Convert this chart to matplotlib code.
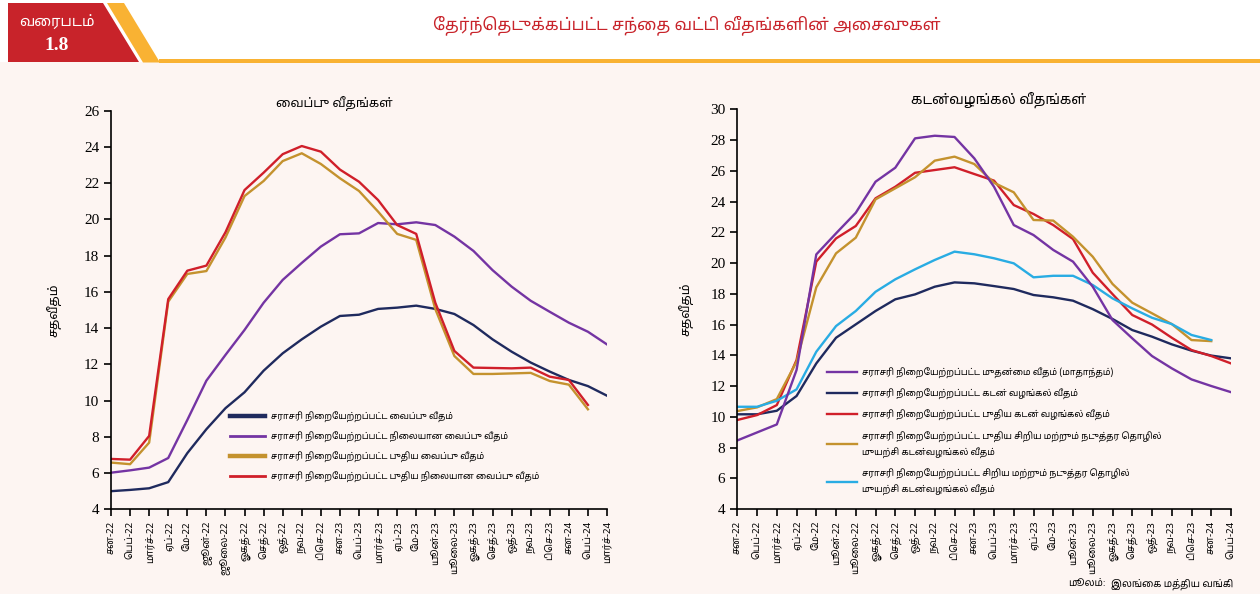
import numpy as np
import matplotlib
matplotlib.use('Agg')
import matplotlib.pyplot as plt
from matplotlib import font_manager
from matplotlib.patches import Polygon, Rectangle

# pick a font that has Tamil glyphs
names = {f.name for f in font_manager.fontManager.ttflist}
TAMIL = 'Noto Sans Tamil' if 'Noto Sans Tamil' in names else 'DejaVu Sans'
plt.rcParams['font.family'] = [TAMIL, 'DejaVu Sans']

# matplotlib does no complex shaping, so put the pre-base vowel signs
# in front of their consonant, the way they are seen on paper
PREBASE = {'\u0bc6', '\u0bc7', '\u0bc8'}
SPLIT = {'\u0bca': ('\u0bc6', '\u0bbe'), '\u0bcb': ('\u0bc7', '\u0bbe'),
         '\u0bcc': ('\u0bc6', '\u0bd7')}


def ta(s):
    out = []
    for ch in s:
        if ch in PREBASE and out:
            out.insert(len(out) - 1, ch)
        elif ch in SPLIT and out:
            a, b = SPLIT[ch]
            out.insert(len(out) - 1, a)
            out.append(b)
        else:
            out.append(ch)
    return ''.join(out)


# ---- data ----
months_dep = ['சன-22', 'பெப்-22', 'மார்ச்-22', 'ஏப்-22', 'மே-22', 'ஜூன்-22', 'ஜூலை-22',
              'ஓகத்-22', 'செத்-22', 'ஒத்-22', 'நவ-22', 'டிசெ-22', 'சன-23', 'பெப்-23',
              'மார்ச்-23', 'ஏப்-23', 'மே-23', 'யூன்-23', 'யூலை-23', 'ஓகத்-23', 'செத்-23',
              'ஒத்-23', 'நவ-23', 'டிசெ-23', 'சன-24', 'பெப்-24', 'மார்ச்-24']
months_lend = ['சன-22', 'பெப்-22', 'மார்ச்-22', 'ஏப்-22', 'மே-22', 'யூன்-22', 'யூலை-22',
               'ஓகத்-22', 'செத்-22', 'ஒத்-22', 'நவ-22', 'டிசெ-22', 'சன-23', 'பெப்-23',
               'மார்ச்-23', 'ஏப்-23', 'மே-23', 'யூன்-23', 'யூலை-23', 'ஓகத்-23', 'செத்-23',
               'ஒத்-23', 'நவ-23', 'டிசெ-23', 'சன-24', 'பெப்-24']

# deposit rates
awdr = [5.0, 5.07, 5.16, 5.5, 7.1, 8.42, 9.58, 10.46, 11.65, 12.61, 13.38, 14.08, 14.67,
        14.74, 15.06, 15.13, 15.24, 15.06, 14.78, 14.17, 13.38, 12.7, 12.1, 11.6, 11.14, 10.8, 10.27]
awfdr = [6.02, 6.15, 6.3, 6.83, 8.93, 11.1, 12.52, 13.9, 15.4, 16.66, 17.6, 18.5, 19.18,
         19.23, 19.8, 19.73, 19.84, 19.69, 19.05, 18.26, 17.2, 16.29, 15.51, 14.9, 14.3, 13.8, 13.1]
awndr = [6.58, 6.49, 7.68, 15.46, 16.99, 17.15, 19.0, 21.29, 22.12, 23.22, 23.65, 23.06, 22.27,
         21.57, 20.43, 19.2, 18.87, 15.05, 12.46, 11.47, 11.47, 11.5, 11.53, 11.08, 10.88, 9.52, np.nan]
awnfdr = [6.78, 6.74, 8.05, 15.6, 17.17, 17.45, 19.29, 21.62, 22.58, 23.6, 24.05, 23.74, 22.75,
          22.08, 21.07, 19.69, 19.2, 15.4, 12.74, 11.82, 11.8, 11.78, 11.82, 11.32, 11.14, 9.76, np.nan]

# lending rates
awpr = [8.46, 8.98, 9.5, 13.04, 20.56, 21.93, 23.27, 25.29, 26.2, 28.11, 28.28, 28.2, 26.81,
        24.96, 22.47, 21.82, 20.85, 20.09, 18.46, 16.29, 15.1, 13.95, 13.15, 12.43, 12.0, 11.6]
awlr = [10.16, 10.16, 10.39, 11.35, 13.47, 15.14, 16.01, 16.88, 17.64, 17.96, 18.46, 18.74, 18.68,
        18.5, 18.31, 17.92, 17.77, 17.55, 17.0, 16.36, 15.64, 15.21, 14.71, 14.3, 13.98, 13.8]
awnlr = [9.79, 10.11, 10.76, 13.69, 20.09, 21.6, 22.41, 24.21, 24.96, 25.87, 26.05, 26.23, 25.79,
         25.36, 23.77, 23.19, 22.47, 21.56, 19.37, 17.98, 16.62, 16.0, 15.14, 14.34, 13.95, 13.47]
awn_sme = [10.37, 10.61, 11.15, 13.58, 18.42, 20.63, 21.65, 24.14, 24.86, 25.58, 26.66, 26.92, 26.44,
           25.22, 24.6, 22.8, 22.76, 21.71, 20.41, 18.64, 17.42, 16.73, 16.03, 14.99, 14.92, np.nan]
aw_sme = [10.65, 10.65, 11.04, 11.78, 14.23, 15.9, 16.88, 18.13, 18.94, 19.59, 20.2, 20.74, 20.57,
          20.31, 19.98, 19.07, 19.17, 19.17, 18.57, 17.7, 17.05, 16.44, 16.03, 15.32, 14.99, np.nan]

dep_labels = ['சராசரி நிறையேற்றப்பட்ட வைப்பு வீதம்',
              'சராசரி நிறையேற்றப்பட்ட நிலையான வைப்பு வீதம்',
              'சராசரி நிறையேற்றப்பட்ட புதிய வைப்பு வீதம்',
              'சராசரி நிறையேற்றப்பட்ட புதிய நிலையான வைப்பு வீதம்']
lend_labels = ['சராசரி நிறையேற்றப்பட்ட முதன்மை வீதம் (மாதாந்தம்)',
               'சராசரி நிறையேற்றப்பட்ட கடன் வழங்கல் வீதம்',
               'சராசரி நிறையேற்றப்பட்ட புதிய கடன் வழங்கல் வீதம்',
               'சராசரி நிறையேற்றப்பட்ட புதிய சிறிய மற்றும் நடுத்தர தொழில்\nமுயற்சி கடன்வழங்கல் வீதம்',
               'சராசரி நிறையேற்றப்பட்ட சிறிய மற்றும் நடுத்தர தொழில்\nமுயற்சி கடன்வழங்கல் வீதம்']

NAVY = '#1f2a5e'
PURPLE = '#7434a3'
GOLD = '#c4922e'
RED = '#d01f2a'
CYAN = '#29ace3'
BG = '#fdf5f2'

fig = plt.figure(figsize=(12.6, 5.94), dpi=100, facecolor=BG)

# header band
fig.patches.append(Rectangle((0, 1 - 62 / 594), 1, 62 / 594, transform=fig.transFigure,
                             facecolor='white', edgecolor='none', zorder=0))
fig.patches.append(Rectangle((159 / 1260, 1 - 62.5 / 594), 1, 4 / 594, transform=fig.transFigure,
                             facecolor='#f9b233', edgecolor='none', zorder=1))
fig.patches.append(Polygon([(107 / 1260, 1 - 3 / 594), (124 / 1260, 1 - 3 / 594),
                            (160 / 1260, 1 - 62.5 / 594), (143 / 1260, 1 - 62.5 / 594)],
                           closed=True, transform=fig.transFigure, facecolor='#f9b233',
                           edgecolor='none', zorder=1))
fig.patches.append(Polygon([(8 / 1260, 1 - 3 / 594), (103 / 1260, 1 - 3 / 594),
                            (139 / 1260, 1 - 62 / 594), (8 / 1260, 1 - 62 / 594)],
                           closed=True, transform=fig.transFigure, facecolor='#c8232a',
                           edgecolor='none', zorder=2))
fig.text(57 / 1260, 1 - 23.5 / 594, ta('வரைபடம்'), color='white', fontsize=10.5,
         ha='center', va='center')
fig.text(57 / 1260, 1 - 46 / 594, '1.8', color='white', fontsize=14, fontweight='bold',
         family='Liberation Serif', ha='center', va='center')
fig.text(687 / 1260, 1 - 25 / 594, ta('தேர்ந்தெடுக்கப்பட்ட சந்தை வட்டி வீதங்களின் அசைவுகள்'),
         color='#c8232a', fontsize=12, ha='center', va='center')


def style_axis(ax, labels, ymin, ymax, pad):
    ax.set_facecolor(BG)
    for s in ['top', 'right']:
        ax.spines[s].set_visible(False)
    ax.spines['left'].set_linewidth(1.2)
    ax.spines['bottom'].set_linewidth(1.2)
    ax.set_xlim(0, len(labels) - 1)
    ax.set_ylim(ymin, ymax)
    ax.set_yticks(np.arange(ymin, ymax + 1, 2))
    ax.set_xticks(np.arange(len(labels)))
    ax.set_xticklabels([ta(l) for l in labels], rotation=90, fontsize=7)
    for t in ax.get_yticklabels():
        t.set_family('Liberation Serif')
        t.set_fontsize(11)
    ax.tick_params(direction='out', length=5, width=1.2)
    ax.set_ylabel(ta('சதவீதம்'), fontsize=9, labelpad=pad)


ax1 = fig.add_axes([111 / 1260, 84.7 / 594, 496 / 1260, 398.6 / 594])
x1 = np.arange(len(months_dep))
ax1.plot(x1, awdr, color=NAVY, lw=1.7, label=ta(dep_labels[0]))
ax1.plot(x1, awfdr, color=PURPLE, lw=1.7, label=ta(dep_labels[1]))
ax1.plot(x1, awndr, color=GOLD, lw=1.7, label=ta(dep_labels[2]))
ax1.plot(x1, awnfdr, color=RED, lw=1.7, label=ta(dep_labels[3]))
style_axis(ax1, months_dep, 4, 26, 16)
ax1.set_title(ta('வைப்பு வீதங்கள்'), fontsize=9, pad=-13, x=0.45)
leg1 = ax1.legend(loc='upper left', bbox_to_anchor=(0.225, 0.265), frameon=False, fontsize=6.3,
                  handlelength=4.0, labelspacing=1.02, handletextpad=0.6)
for h, w in zip(leg1.get_lines(), [3.2, 2.0, 3.2, 2.0]):
    h.set_linewidth(w)

ax2 = fig.add_axes([737.3 / 1260, 85 / 594, 493.7 / 1260, 399.7 / 594])
x2 = np.arange(len(months_lend))
ax2.plot(x2, awlr, color=NAVY, lw=1.7, label=ta(lend_labels[1]))
ax2.plot(x2, awnlr, color=RED, lw=1.7, label=ta(lend_labels[2]))
ax2.plot(x2, awn_sme, color=GOLD, lw=1.7, label=ta(lend_labels[3]))
ax2.plot(x2, aw_sme, color=CYAN, lw=1.7, label=ta(lend_labels[4]))
ax2.plot(x2, awpr, color=PURPLE, lw=1.7, label=ta(lend_labels[0]))
style_axis(ax2, months_lend, 4, 30, 12)
ax2.set_title(ta('கடன்வழங்கல் வீதங்கள்'), fontsize=10, pad=-13, x=0.53)
hs, ls = ax2.get_legend_handles_labels()
order = [4, 0, 1, 2, 3]
leg2 = ax2.legend([hs[i] for i in order], [ls[i] for i in order], loc='upper left',
                  bbox_to_anchor=(0.165, 0.375), frameon=False, fontsize=6.4, handlelength=3.4,
                  labelspacing=1.15, handletextpad=0.6)
for t in leg2.get_texts():
    t.set_linespacing(1.65)

fig.text(1106 / 1260, 1 - 584 / 594, ta('மூலம்:'), fontsize=7, style='italic',
         ha='right', va='center')
fig.text(1111 / 1260, 1 - 584 / 594, ta('இலங்கை மத்திய வங்கி'), fontsize=7,
         ha='left', va='center')

fig.savefig('out.png', dpi=100, facecolor=BG)
